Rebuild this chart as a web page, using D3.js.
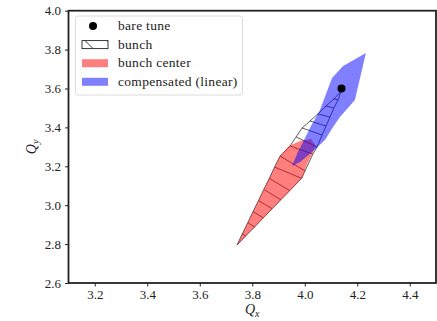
<!DOCTYPE html>
<html>
<head>
<meta charset="utf-8">
<script src="https://cdn.jsdelivr.net/npm/d3@7"></script>
<style>
  body { margin: 0; background: #fff; }
  svg text { font-family: "Liberation Serif", serif; fill: #222; }
</style>
</head>
<body>
<div class="svg-container"></div>
<script>
// tune footprint values
const bareTune = [4.14, 3.60];

// bunch slices: left and right edge of each slice boundary, tip -> top
const bunchLeftQx  = [3.742, 3.762, 3.783, 3.803, 3.824, 3.844, 3.865, 3.885, 3.906, 3.944, 3.967, 3.990, 4.020, 4.050, 4.081, 4.111, 4.138];
const bunchLeftQy  = [2.795, 2.852, 2.910, 2.967, 3.024, 3.081, 3.138, 3.196, 3.253, 3.304, 3.351, 3.397, 3.433, 3.469, 3.510, 3.546, 3.585];
const bunchRightQx = [3.742, 3.775, 3.809, 3.842, 3.876, 3.909, 3.943, 3.988, 4.001, 4.031, 4.047, 4.066, 4.081, 4.096, 4.111, 4.127, 4.138];
const bunchRightQy = [2.795, 2.842, 2.888, 2.935, 2.982, 3.028, 3.075, 3.138, 3.176, 3.263, 3.299, 3.361, 3.407, 3.453, 3.500, 3.541, 3.585];

// bunch center footprint
const centerQx = [3.742, 3.906, 3.940, 3.982, 4.024, 4.043, 4.009, 3.990];
const centerQy = [2.795, 3.253, 3.304, 3.330, 3.340, 3.304, 3.212, 3.140];

// compensated (linear) footprint
const compQx = [3.951, 3.974, 4.001, 4.024, 4.058, 4.104, 4.146, 4.233, 4.191, 4.134, 4.108, 4.077, 4.028, 3.982];
const compQy = [3.202, 3.274, 3.346, 3.407, 3.489, 3.654, 3.716, 3.783, 3.541, 3.453, 3.402, 3.335, 3.274, 3.222];

const xTicks = [3.2, 3.4, 3.6, 3.8, 4.0, 4.2, 4.4];
const yTicks = [2.6, 2.8, 3.0, 3.2, 3.4, 3.6, 3.8, 4.0];
const legendLabels = ["bare tune", "bunch", "bunch center", "compensated (linear)"];

const W = 437, H = 321;
const margin = {top: 10.7, bottom: 38, left: 68.5, right: 1};
const FONT = "'Liberation Serif', serif";

const redFill = "rgba(255,0,0,0.5)";
const blueFill = "rgba(0,0,255,0.5)";

draw();

function draw() {
  const svg = d3.select(".svg-container").append("svg")
    .attr("width", W)
    .attr("height", H);

  const x = d3.scaleLinear().domain([3.1, 4.5]).range([margin.left, W - margin.right]);
  const y = d3.scaleLinear().domain([2.6, 4.0]).range([H - margin.bottom, margin.top]);

  const line = d3.line().x(d => x(d[0])).y(d => y(d[1]));

  // bunch outline: left edge up, right edge back down
  const left = bunchLeftQx.map((v, i) => [v, bunchLeftQy[i]]);
  const right = bunchRightQx.map((v, i) => [v, bunchRightQy[i]]);
  const outline = left.concat(right.slice().reverse());

  svg.append("path")
    .attr("d", line(outline) + "Z")
    .attr("fill", "none")
    .attr("stroke", "#333")
    .attr("stroke-width", 0.8)
    .attr("stroke-linejoin", "round");

  // slice boundaries
  for (let i = 1; i < left.length - 1; i++) {
    svg.append("line")
      .attr("x1", x(left[i][0])).attr("y1", y(left[i][1]))
      .attr("x2", x(right[i][0])).attr("y2", y(right[i][1]))
      .attr("stroke", "#333")
      .attr("stroke-width", 0.8);
  }

  svg.append("path")
    .attr("d", line(centerQx.map((v, i) => [v, centerQy[i]])) + "Z")
    .attr("fill", redFill);

  svg.append("path")
    .attr("d", line(compQx.map((v, i) => [v, compQy[i]])) + "Z")
    .attr("fill", blueFill);

  svg.append("circle")
    .attr("cx", x(bareTune[0]))
    .attr("cy", y(bareTune[1]))
    .attr("r", 4)
    .attr("fill", "#000");

  createAxisX(svg, x, y);
  createAxisY(svg, x, y);

  // frame
  svg.append("rect")
    .attr("x", x(3.1))
    .attr("y", y(4.0))
    .attr("width", x(4.5) - x(3.1))
    .attr("height", y(2.6) - y(4.0))
    .attr("fill", "none")
    .attr("stroke", "#222")
    .attr("stroke-width", 1.8);

  createLegend(svg);
}

function createAxisX(svg, x, y) {
  const xAxis = d3.axisBottom(x).tickValues(xTicks).tickFormat(d3.format(".1f")).tickSize(3.5).tickPadding(3);
  const g = svg.append("g")
    .attr("transform", `translate(0, ${y(2.6)})`)
    .call(xAxis)
    .attr("font-family", FONT)
    .attr("font-size", 13);
  g.select(".domain").remove();
  g.selectAll("line").attr("stroke", "#222");
  g.selectAll("text").attr("fill", "#333");

  const lbl = svg.append("text")
    .attr("x", (x(3.1) + x(4.5)) / 2)
    .attr("y", 314)
    .attr("text-anchor", "middle")
    .attr("font-family", FONT)
    .attr("font-size", 14);
  lbl.append("tspan").attr("font-style", "italic").text("Q");
  lbl.append("tspan").attr("font-style", "italic").attr("font-size", 10).attr("dy", 3).text("x");
}

function createAxisY(svg, x, y) {
  const yAxis = d3.axisLeft(y).tickValues(yTicks).tickFormat(d3.format(".1f")).tickSize(3.5).tickPadding(4);
  const g = svg.append("g")
    .attr("transform", `translate(${x(3.1)},0)`)
    .call(yAxis)
    .attr("font-family", FONT)
    .attr("font-size", 13);
  g.select(".domain").remove();
  g.selectAll("line").attr("stroke", "#222");
  g.selectAll("text").attr("fill", "#333");

  const lbl = svg.append("text")      // text label for the y-axis
    .attr("transform", `translate(36, ${(y(2.6) + y(4.0)) / 2}) rotate(-90)`)
    .attr("text-anchor", "middle")
    .attr("font-family", FONT)
    .attr("font-size", 14);
  lbl.append("tspan").attr("font-style", "italic").text("Q");
  lbl.append("tspan").attr("font-style", "italic").attr("font-size", 10).attr("dy", 3).text("y");
}

function createLegend(svg) {
  const lx = 75.5, ly = 16, lw = 167, lh = 79;
  const g = svg.append("g");
  g.append("rect")
    .attr("x", lx).attr("y", ly)
    .attr("width", lw).attr("height", lh)
    .attr("rx", 2.5)
    .attr("fill", "rgba(255,255,255,0.8)")
    .attr("stroke", "#d8d8d8")
    .attr("stroke-width", 0.9);

  const rows = [26, 44.6, 63.2, 81.8];
  const px = 82, pw = 26, ph = 8;

  g.append("circle").attr("cx", px + pw / 2 - 2).attr("cy", rows[0]).attr("r", 4).attr("fill", "#000");

  // hatched bunch patch
  svg.append("clipPath").attr("id", "hatchclip")
    .append("rect").attr("x", px).attr("y", rows[1] - ph / 2).attr("width", pw).attr("height", ph);
  const hatch = g.append("g").attr("clip-path", "url(#hatchclip)");
  [px + 3, px + 25].forEach(x0 => {
    hatch.append("line")
      .attr("x1", x0).attr("y1", rows[1] - ph / 2)
      .attr("x2", x0 + ph).attr("y2", rows[1] + ph / 2)
      .attr("stroke", "#222").attr("stroke-width", 0.9);
  });
  g.append("rect")
    .attr("x", px).attr("y", rows[1] - ph / 2).attr("width", pw).attr("height", ph)
    .attr("fill", "none").attr("stroke", "#222").attr("stroke-width", 0.9);

  g.append("rect").attr("x", px).attr("y", rows[2] - ph / 2).attr("width", pw).attr("height", ph).attr("fill", redFill);
  g.append("rect").attr("x", px).attr("y", rows[3] - ph / 2).attr("width", pw).attr("height", ph).attr("fill", blueFill);

  legendLabels.forEach((t, i) => {
    g.append("text")
      .attr("x", 118)
      .attr("y", rows[i] + 4)
      .attr("font-family", FONT)
      .attr("font-size", 13.5)
      .attr("letter-spacing", 0.3)
      .text(t);
  });
}
</script>
</body>
</html>
